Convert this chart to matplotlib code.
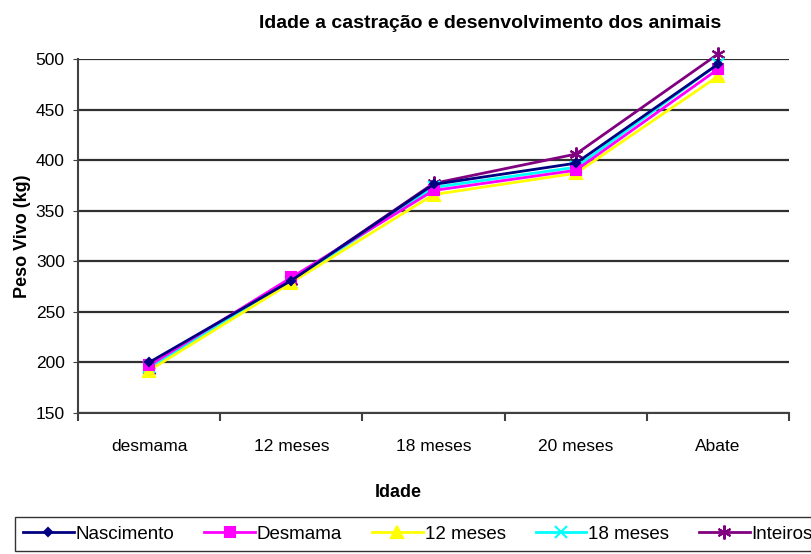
import matplotlib.pyplot as plt
import numpy as np

plt.rcParams['font.family'] = ['Liberation Sans', 'DejaVu Sans']

categorias = ["desmama", "12 meses", "18 meses", "20 meses", "Abate"]
nascimento = [200, 281, 376, 397, 495]
desmama = [197, 284, 370, 390, 490]
meses12 = [192, 279, 366, 387, 483]
meses18 = [195, 280, 373, 393, 495]
inteiros = [193, 281, 377, 406, 505]

series = [
    ("Nascimento", nascimento, "#000080", "D", 4),
    ("Desmama", desmama, "#FF00FF", "s", 7),
    ("12 meses", meses12, "#FFFF00", "^", 9),
    ("18 meses", meses18, "#00FFFF", "x", 8),
    ("Inteiros", inteiros, "#800080", (6, 2, 0), 10),
]

fig = plt.figure(figsize=(8.12, 5.54), dpi=100)
ax = fig.add_axes([0.096, 0.2545, 0.876, 0.639])

x = np.arange(len(categorias))
# draw in reverse so Nascimento sits on top
for nome, vals, cor, mk, ms in reversed(series):
    ax.plot(x, vals, color=cor, lw=2, marker=mk, ms=ms, mew=1.5,
            mec=cor, mfc=cor, label=nome, clip_on=False)

ax.set_xlim(-0.5, len(categorias) - 0.5)
ax.set_ylim(150, 500)
ax.set_yticks(np.arange(150, 501, 50))
ax.set_xticks(x)
ax.set_xticklabels(categorias)
ax.yaxis.grid(True, color="#303030", lw=1.6)
ax.set_axisbelow(True)
for s in ["top", "right"]:
    ax.spines[s].set_visible(False)
ax.spines["left"].set_color("#404040")
ax.spines["bottom"].set_color("#404040")
ax.spines["left"].set_linewidth(1.5)
ax.spines["bottom"].set_linewidth(1.5)
ax.tick_params(axis="both", labelsize=12.5, color="#404040")
ax.tick_params(axis="y", pad=6)
ax.tick_params(axis="x", length=0, pad=19)
ax.set_xticks(np.arange(-0.5, len(categorias)), minor=True)
ax.tick_params(axis="x", which="minor", length=6, color="#404040", width=1.5)

ax.set_title("Idade a castração e desenvolvimento dos animais",
             fontsize=14, fontweight="bold", pad=22, x=0.579)
ax.set_xlabel("Idade", fontsize=13, fontweight="bold", labelpad=20)
ax.xaxis.set_label_coords(0.45, -0.2)
ax.set_ylabel("Peso Vivo (kg)", fontsize=13, fontweight="bold", labelpad=3)

handles, labels = ax.get_legend_handles_labels()
leg = fig.legend(handles[::-1], labels[::-1], loc="lower left",
                 bbox_to_anchor=(0.018, 0.005), borderaxespad=0, ncol=5,
                 fontsize=13.5, frameon=True, fancybox=False,
                 edgecolor="black", handlelength=2.7, handletextpad=0.1,
                 columnspacing=1.6, borderpad=0.45)
leg.get_frame().set_linewidth(1)

fig.savefig("out.png", dpi=100)
